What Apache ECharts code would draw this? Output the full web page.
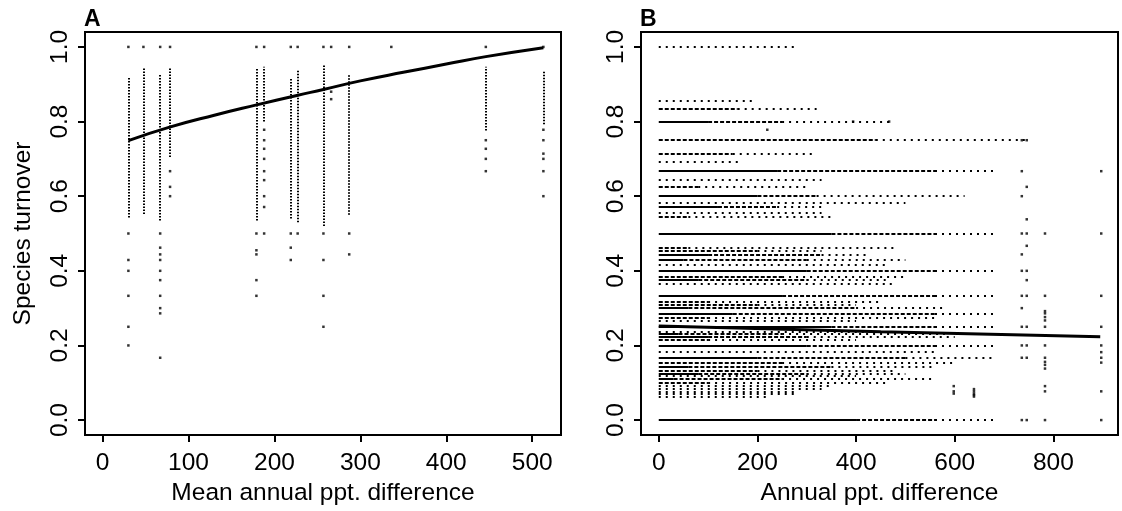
<!DOCTYPE html>
<html>
<head>
<meta charset="utf-8">
<script src="https://cdn.jsdelivr.net/npm/echarts@6/dist/echarts.min.js"></script>
<style>
  html, body { margin: 0; background: #fff; }
  #chart { width: 1122px; height: 511px; }
</style>
</head>
<body>
<div id="chart"></div>
<script>
// ---- panel A: mean annual ppt. difference (columns of points) ----
const colX      = [30, 47.5, 67, 78.5, 179, 188, 219, 227, 257, 287, 446, 513];
const colTop    = [0.921, 0.943, 0.925, 0.943, 0.944, 0.947, 0.917, 0.94, 0.95, 0.925, 0.947, 0.934];
const colBottom = [0.543, 0.552, 0.535, 0.705, 0.535, 0.80, 0.54, 0.53, 0.52, 0.55, 0.776, 0.793];

// isolated points, [x, y]
const pointsA = [
  [30, 1], [30, 0.5], [30, 0.429], [30, 0.4], [30, 0.333], [30, 0.25], [30, 0.2],
  [47.5, 1],
  [67, 1], [67, 0.5], [67, 0.462], [67, 0.444], [67, 0.429], [67, 0.4], [67, 0.375],
  [67, 0.333], [67, 0.3], [67, 0.286], [67, 0.167],
  [78.5, 1], [78.5, 0.667], [78.5, 0.625], [78.5, 0.6],
  [179, 1], [179, 0.5], [179, 0.455], [179, 0.444], [179, 0.375], [179, 0.333],
  [188, 1], [188, 0.778], [188, 0.75], [188, 0.727], [188, 0.7], [188, 0.667],
  [188, 0.643], [188, 0.6], [188, 0.571], [188, 0.5],
  [219, 1], [219, 0.5], [219, 0.462], [219, 0.429],
  [227, 1], [227, 0.5],
  [257, 1], [257, 0.5], [257, 0.429], [257, 0.333], [257, 0.25],
  [266, 1], [266, 0.88], [266, 0.86],
  [287, 1], [287, 0.5], [287, 0.444],
  [336, 1],
  [446, 1], [446, 0.75], [446, 0.727], [446, 0.7], [446, 0.667],
  [513, 1], [513, 0.778], [513, 0.75], [513, 0.714], [513, 0.7], [513, 0.667], [513, 0.6]
];

// fitted curve A
const fitAx = [30, 78, 130, 178, 226, 257, 300, 350, 400, 446, 513];
const fitAy = [0.749, 0.785, 0.817, 0.844, 0.870, 0.886, 0.909, 0.932, 0.954, 0.974, 0.998];

// ---- panel B: annual ppt. difference (rows of points at each turnover level) ----
const bandY       = [1.0, 0.857, 0.833, 0.8, 0.75, 0.714, 0.692, 0.667, 0.643, 0.625, 0.6, 0.583, 0.571,
                     0.556, 0.545, 0.5, 0.462, 0.455, 0.444, 0.429, 0.417, 0.4, 0.385, 0.375, 0.364,
                     0.333, 0.316, 0.308, 0.3, 0.286, 0.273, 0.267, 0.25, 0.238, 0.231, 0.222, 0.214,
                     0.2, 0.182, 0.167, 0.154, 0.143, 0.133, 0.125, 0.118, 0.111, 0.1, 0.091, 0.083,
                     0.077, 0.071, 0.0625, 0.0];
const bandSolidTo = [0, 0, 0, 100, 0, 0, 0, 240, 0, 0, 200, 0, 120,
                     0, 0, 350, 0, 0, 100, 50, 0, 300, 0, 80, 0,
                     250, 0, 0, 60, 150, 0, 0, 350, 0, 40, 100, 0,
                     300, 0, 200, 0, 60, 0, 80, 0, 30, 0, 0, 0,
                     0, 0, 0, 400];
const bandDashTo  = [0, 0, 160, 250, 440, 150, 0, 560, 0, 80, 320, 0, 240,
                     0, 60, 560, 60, 200, 330, 300, 0, 560, 250, 300, 0,
                     560, 100, 200, 400, 560, 100, 0, 560, 0, 250, 300, 100,
                     560, 0, 500, 250, 350, 200, 300, 0, 250, 100, 0, 0,
                     0, 0, 0, 560];
const bandDotTo   = [275, 190, 320, 470, 750, 320, 170, 680, 330, 300, 620, 500, 330,
                     330, 350, 680, 480, 330, 420, 500, 460, 680, 500, 460, 480,
                     680, 450, 400, 580, 680, 560, 400, 680, 500, 580, 600, 400,
                     680, 560, 680, 600, 560, 480, 500, 400, 560, 460, 350, 330,
                     280, 280, 220, 680];

// isolated points in B, [x, y]
const pointsB = [
  [220, 0.778], [394, 0.8], [467, 0.8],
  [736, 0.75], [736, 0.667], [736, 0.6], [736, 0.5], [736, 0.444], [736, 0.4], [736, 0.333],
  [736, 0.3], [736, 0.25], [736, 0.2], [736, 0.167], [736, 0],
  [746, 0.75], [746, 0.625], [746, 0.538], [746, 0.5], [746, 0.467], [746, 0.4], [746, 0.375],
  [746, 0.333], [746, 0.25], [746, 0.2], [746, 0.167], [746, 0],
  [783, 0.5], [783, 0.333], [783, 0.292], [783, 0.286], [783, 0.276], [783, 0.267], [783, 0.25],
  [783, 0.2], [783, 0.167], [783, 0.156], [783, 0.148], [783, 0.138], [783, 0.091], [783, 0.077], [783, 0],
  [897, 0.667], [897, 0.5], [897, 0.333], [897, 0.25], [897, 0.2], [897, 0.182], [897, 0.167],
  [897, 0.154], [897, 0.077], [897, 0],
  [639, 0.083], [639, 0.077], [639, 0.071], [639, 0.067], [639, 0.063],
  [598, 0.091], [598, 0.077], [598, 0.071]
];

// fitted line B
const fitBx = [0, 450, 895];
const fitBy = [0.252, 0.237, 0.223];

// tick labels
const ticksAx = [0, 100, 200, 300, 400, 500];
const ticksBx = [0, 200, 400, 600, 800];
const ticksY  = [0, 0.2, 0.4, 0.6, 0.8, 1.0];

const FONT = '"Liberation Sans", Arial, sans-serif';

let chart = echarts.init(document.getElementById('chart'));

function xAxisCfg(idx, min, max, ticks, name) {
  return {
    type: 'value', gridIndex: idx, min: min, max: max,
    name: name, nameLocation: 'middle', nameGap: 46,
    nameTextStyle: { fontSize: 24.5, color: '#000', fontFamily: FONT },
    axisLine: { show: true, onZero: false, lineStyle: { color: '#000', width: 2 } },
    splitLine: { show: false },
    axisTick: { show: true, inside: false, length: 7, lineStyle: { color: '#000', width: 2 }, customValues: ticks },
    axisLabel: { fontSize: 24.5, color: '#000', fontFamily: FONT, margin: 16, customValues: ticks }
  };
}

function yAxisCfg(idx, name) {
  return {
    type: 'value', gridIndex: idx, min: -0.04, max: 1.04,
    name: name, nameLocation: 'middle', nameGap: 49,
    nameTextStyle: { fontSize: 24.5, color: '#000', fontFamily: FONT },
    axisLine: { show: true, onZero: false, lineStyle: { color: '#000', width: 2 } },
    splitLine: { show: false },
    axisTick: { show: true, inside: false, length: 7, lineStyle: { color: '#000', width: 2 }, customValues: ticksY },
    axisLabel: {
      fontSize: 24.5, color: '#000', fontFamily: FONT, margin: 12, rotate: 90,
      customValues: ticksY,
      formatter: v => v.toFixed(1)
    }
  };
}

// build segments from the arrays
let colSegs = colX.map((x, i) => ({ coords: [[x, colBottom[i]], [x, colTop[i]]] }));
let solidSegs = [], dashSegs = [], dotSegs = [];
bandY.forEach((y, i) => {
  if (bandSolidTo[i] > 0) solidSegs.push({ coords: [[0, y], [bandSolidTo[i], y]] });
  if (bandDashTo[i] > bandSolidTo[i]) dashSegs.push({ coords: [[bandSolidTo[i], y], [bandDashTo[i], y]] });
  let s = Math.max(bandSolidTo[i], bandDashTo[i]);
  if (bandDotTo[i] > s) dotSegs.push({ coords: [[s, y], [bandDotTo[i], y]] });
});

function segSeries(xi, data, width, type) {
  return {
    type: 'lines', coordinateSystem: 'cartesian2d', xAxisIndex: xi, yAxisIndex: xi,
    polyline: false, silent: true, data: data,
    lineStyle: { color: '#000', width: width, type: type, opacity: 1 }
  };
}

chart.setOption({
  backgroundColor: '#fff',
  animation: false,
  graphic: [
    { type: 'text', left: 84, top: 8, style: { text: 'A', font: 'bold 23px ' + FONT, fill: '#000' } },
    { type: 'text', left: 640, top: 8, style: { text: 'B', font: 'bold 23px ' + FONT, fill: '#000' } }
  ],
  grid: [
    { left: 85, top: 32, width: 476, height: 410, show: true, borderColor: '#000', borderWidth: 2 },
    { left: 641, top: 32, width: 477, height: 410, show: true, borderColor: '#000', borderWidth: 2 }
  ],
  xAxis: [
    xAxisCfg(0, -20.5, 533.5, ticksAx, 'Mean annual ppt. difference'),
    xAxisCfg(1, -36, 931, ticksBx, 'Annual ppt. difference')
  ],
  yAxis: [
    yAxisCfg(0, 'Species turnover'),
    yAxisCfg(1, '')
  ],
  series: [
    segSeries(0, colSegs, 2, [1.5, 1.5]),
    {
      type: 'scatter', xAxisIndex: 0, yAxisIndex: 0, data: pointsA,
      symbol: 'rect', symbolSize: 2.5, itemStyle: { color: '#000' }, silent: true
    },
    {
      type: 'line', xAxisIndex: 0, yAxisIndex: 0, smooth: true, showSymbol: false,
      data: fitAx.map((x, i) => [x, fitAy[i]]),
      lineStyle: { color: '#000', width: 3 }, silent: true
    },
    segSeries(1, solidSegs, 2, 'solid'),
    segSeries(1, dashSegs, 2, [4, 2]),
    segSeries(1, dotSegs, 2, [2, 5]),
    {
      type: 'scatter', xAxisIndex: 1, yAxisIndex: 1, data: pointsB,
      symbol: 'rect', symbolSize: 2.5, itemStyle: { color: '#000' }, silent: true
    },
    {
      type: 'line', xAxisIndex: 1, yAxisIndex: 1, showSymbol: false,
      data: fitBx.map((x, i) => [x, fitBy[i]]),
      lineStyle: { color: '#000', width: 3 }, silent: true
    }
  ]
});
window.addEventListener('resize', () => chart.resize());
</script>
</body>
</html>
